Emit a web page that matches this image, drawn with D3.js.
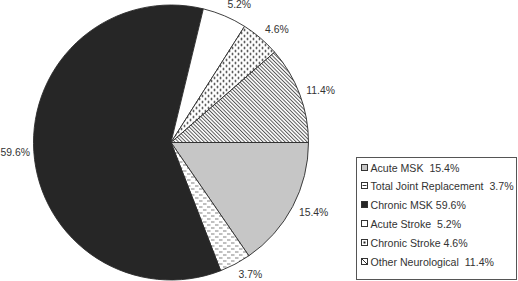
<!DOCTYPE html>
<html>
<head>
<meta charset="utf-8">
<script src="https://cdn.jsdelivr.net/npm/d3@7"></script>
<style>
  body { margin: 0; background: #fff; }
  svg { display: block; font-family: "Liberation Sans", Arial, sans-serif; }
  text { white-space: pre; }
</style>
</head>
<body>
<div id="chart"></div>
<script>
// 数据
const categories = ["Acute MSK", "Total Joint Replacement", "Chronic MSK", "Acute Stroke", "Chronic Stroke", "Other Neurological"];
const values = [15.4, 3.7, 59.6, 5.2, 4.6, 11.4];
const legendLabels = ["Acute MSK  15.4%", "Total Joint Replacement  3.7%", "Chronic MSK 59.6%", "Acute Stroke  5.2%", "Chronic Stroke 4.6%", "Other Neurological  11.4%"];
const fills = ["#c6c6c6", "url(#dash)", "#262626", "#ffffff", "url(#dots)", "url(#hatch)"];
const swatchMarks = [null, "dash", null, null, "dot", "hatch"];

const width = 518, height = 281;
const cx = 171, cy = 142.5, r = 137.5;

const svg = d3.select('#chart').append('svg')
    .attr('width', width)
    .attr('height', height);

// 图案
const defs = svg.append('defs');

const dash = defs.append('pattern')
    .attr('id', 'dash').attr('patternUnits', 'userSpaceOnUse')
    .attr('width', 8).attr('height', 6);
dash.append('rect').attr('width', 8).attr('height', 6).attr('fill', '#fff');
dash.append('rect').attr('x', 0).attr('y', 1).attr('width', 3.5).attr('height', 1).attr('fill', '#808080');
dash.append('rect').attr('x', 4).attr('y', 4).attr('width', 3.5).attr('height', 1).attr('fill', '#808080');

const dots = defs.append('pattern')
    .attr('id', 'dots').attr('patternUnits', 'userSpaceOnUse')
    .attr('width', 6).attr('height', 6);
dots.append('rect').attr('width', 6).attr('height', 6).attr('fill', '#fff');
dots.append('circle').attr('cx', 1.5).attr('cy', 1.5).attr('r', 0.95).attr('fill', '#1a1a1a');
dots.append('circle').attr('cx', 4.5).attr('cy', 4.5).attr('r', 0.95).attr('fill', '#1a1a1a');

// 斜线从左上到右下
const hatch = defs.append('pattern')
    .attr('id', 'hatch').attr('patternUnits', 'userSpaceOnUse')
    .attr('width', 2.6).attr('height', 2.6)
    .attr('patternTransform', 'rotate(-45)');
hatch.append('rect').attr('width', 2.6).attr('height', 2.6).attr('fill', '#fff');
hatch.append('line').attr('x1', 0.5).attr('y1', 0).attr('x2', 0.5).attr('y2', 2.6)
    .attr('stroke', '#4a4a4a').attr('stroke-width', 0.9);

// 饼图，从三点钟方向顺时针
const pie = d3.pie().sort(null)
    .startAngle(Math.PI / 2)
    .endAngle(Math.PI / 2 + 2 * Math.PI);
const arcs = pie(values);

const arc = d3.arc().innerRadius(0).outerRadius(r);
const labelArc = d3.arc().innerRadius(r + 5).outerRadius(r + 5);

const g = svg.append('g').attr('transform', `translate(${cx},${cy})`);

g.selectAll('path')
    .data(arcs)
    .join('path')
    .attr('d', arc)
    .attr('fill', (d, i) => fills[i])
    .attr('stroke', '#2a2a2a')
    .attr('stroke-width', 0.9)
    .attr('stroke-linejoin', 'round');

// 外侧标签
const midAngle = d => (d.startAngle + d.endAngle) / 2;
const labels = g.selectAll('text.lbl')
    .data(arcs)
    .join('text')
    .attr('class', 'lbl')
    .attr('text-anchor', d => Math.sin(midAngle(d)) >= 0 ? 'start' : 'end')
    .attr('dy', '0.35em')
    .style('font-size', '10.4px')
    .style('fill', '#333')
    .text((d, i) => values[i].toFixed(1) + '%');

labels.attr('transform', function(d) {
    const [x, y] = labelArc.centroid(d);
    const a = midAngle(d) - Math.PI / 2;
    let lx = x + 2 * Math.cos(a);
    const ly = y + 7 * Math.sin(a);
    if (Math.cos(a) < 0) {
        // 保持在画布内
        const w = this.getComputedTextLength();
        lx = Math.max(lx, w + 0.5 - cx);
    }
    return `translate(${lx},${ly})`;
});

// 图例
const legend = svg.append('g');
legend.append('rect')
    .attr('x', 356.5).attr('y', 157.5)
    .attr('width', 160).attr('height', 122)
    .attr('fill', '#fff')
    .attr('stroke', '#555')
    .attr('stroke-width', 1);

const legendY = d3.scalePoint().domain(categories).range([167.5, 261.5]);

const item = legend.selectAll('g.item')
    .data(categories)
    .join('g')
    .attr('class', 'item')
    .attr('transform', d => `translate(361,${Math.round(legendY(d))})`);

item.append('rect')
    .attr('x', 0.5).attr('y', -3.5)
    .attr('width', 6).attr('height', 6)
    .attr('fill', (d, i) => swatchMarks[i] ? '#fff' : fills[i])
    .attr('stroke', '#333')
    .attr('stroke-width', 1);

item.each(function(d, i) {
    const s = d3.select(this);
    if (swatchMarks[i] === 'dash') {
        s.append('line').attr('x1', 1.5).attr('x2', 5.5).attr('y1', -0.5).attr('y2', -0.5)
            .attr('stroke', '#333').attr('stroke-width', 1);
    } else if (swatchMarks[i] === 'dot') {
        s.append('rect').attr('x', 2.5).attr('y', -1.5).attr('width', 2).attr('height', 2).attr('fill', '#222');
    } else if (swatchMarks[i] === 'hatch') {
        s.append('line').attr('x1', 1).attr('y1', -3).attr('x2', 6).attr('y2', 2)
            .attr('stroke', '#333').attr('stroke-width', 1);
    }
});

item.append('text')
    .attr('x', 9.5)
    .attr('y', 0)
    .attr('dy', '0.35em')
    .style('font-size', '10.6px')
    .style('fill', '#333')
    .text((d, i) => legendLabels[i]);
</script>
</body>
</html>
